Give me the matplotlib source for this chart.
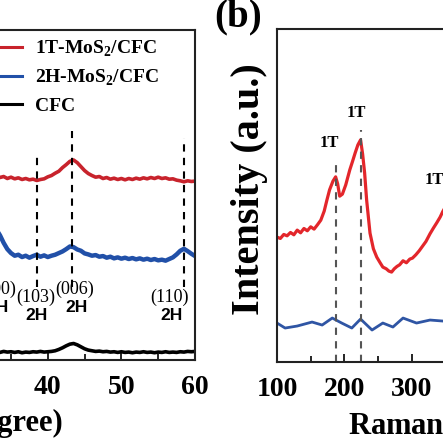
import numpy as np
import matplotlib
matplotlib.use("Agg")
import matplotlib.pyplot as plt

plt.rcParams['font.family'] = ['Liberation Serif', 'DejaVu Serif']
plt.rcParams['font.weight'] = 'bold'
plt.rcParams['mathtext.fontset'] = 'custom'
plt.rcParams['mathtext.rm'] = 'Liberation Serif:bold'
plt.rcParams['mathtext.bf'] = 'Liberation Serif:bold'

# ---- XRD data (2theta in degree, arbitrary intensity) ----
two_theta = [30.0, 30.5, 31.0, 31.5, 32.0, 32.5, 33.0, 33.5, 34.0, 34.5,
             35.0, 35.5, 36.0, 36.5, 37.0, 37.5, 38.0, 38.5, 39.0, 39.5,
             40.0, 40.5, 41.0, 41.5, 42.0, 42.5, 43.0, 43.5, 44.0, 44.5,
             45.0, 45.5, 46.0, 46.5, 47.0, 47.5, 48.0, 48.5, 49.0, 49.5,
             50.0, 50.5, 51.0, 51.5, 52.0, 52.5, 53.0, 53.5, 54.0, 54.5,
             55.0, 55.5, 56.0, 56.5, 57.0, 57.5, 58.0, 58.5, 59.0, 59.5, 60.0]
xrd_1t = [55.6, 55.2, 55.8, 55.4, 55.9, 55.5, 55.7, 55.3, 55.6, 55.0,
          55.4, 54.9, 55.2, 54.7, 55.0, 54.6, 54.8, 54.4, 54.7, 54.9,
          55.5, 55.9, 56.6, 57.2, 58.3, 59.2, 60.2, 60.6, 59.8, 58.6,
          57.4, 56.5, 55.9, 55.4, 55.6, 55.0, 55.3, 54.8, 55.1, 54.7,
          55.0, 54.6, 55.0, 54.7, 55.1, 54.8, 55.2, 54.9, 55.3, 55.0,
          55.4, 55.0, 55.2, 54.8, 54.9, 54.5, 54.3, 54.0, 54.3, 54.1, 54.2]
xrd_2h = [31.8, 32.2, 32.0, 33.0, 35.0, 38.2, 39.6, 37.8, 35.5, 33.6,
          32.4, 31.6, 31.9, 31.2, 31.6, 31.0, 31.5, 31.9, 31.3, 31.7,
          31.2, 31.6, 31.9, 32.4, 32.9, 33.6, 34.4, 34.2, 33.5, 33.1,
          32.3, 32.0, 31.6, 31.8, 31.3, 31.5, 31.0, 31.3, 30.8, 31.1,
          30.7, 31.0, 30.6, 30.9, 30.5, 30.8, 30.4, 30.7, 30.3, 30.6,
          30.2, 30.4, 30.1, 30.6, 31.1, 32.0, 33.1, 33.7, 33.0, 32.2, 31.5]
xrd_cfc = [2.5, 2.3, 2.6, 2.4, 2.5, 2.2, 2.5, 2.3, 2.6, 2.4,
           2.5, 2.3, 2.5, 2.2, 2.4, 2.3, 2.5, 2.4, 2.6, 2.4,
           2.5, 2.6, 2.8, 3.2, 3.7, 4.3, 4.8, 5.0, 4.6, 4.0,
           3.4, 3.0, 2.8, 2.6, 2.7, 2.5, 2.6, 2.4, 2.5, 2.3,
           2.5, 2.3, 2.4, 2.2, 2.4, 2.3, 2.5, 2.3, 2.4, 2.2,
           2.4, 2.3, 2.5, 2.3, 2.4, 2.3, 2.5, 2.4, 2.6, 2.5, 2.6]
xrd_peaks = [33.0, 38.6, 43.3, 58.5]
xrd_peak_names = ['(100)', '(103)', '(006)', '(110)']
xrd_line_top = [None, 62.7, 69.4, 67.3]

# ---- Raman data (cm-1, arbitrary intensity) ----
raman_1t_x = [100, 105, 110, 115, 120, 125, 130, 135, 140, 145, 150, 155,
              160, 165, 170, 174, 178, 183, 187, 190, 193, 197, 202, 208,
              212, 216, 220, 224, 227, 230, 233, 238, 243, 248, 253, 257,
              262, 266, 270, 274, 278, 282, 287, 292, 297, 301, 306, 311,
              316, 321, 327, 332, 337, 342, 346, 352, 358]
raman_1t = [37.5, 37.1, 38.3, 37.9, 38.9, 38.2, 39.6, 38.8, 40.1, 39.4,
            40.6, 39.9, 41.2, 42.6, 45.3, 48.6, 51.7, 54.3, 55.6, 53.5,
            49.8, 50.4, 53.2, 57.7, 60.2, 62.8, 65.2, 66.7, 62.5, 56.8,
            48.6, 38.7, 34.0, 31.5, 29.8, 28.5, 28.0, 27.3, 27.0, 28.0,
            28.7, 29.2, 30.4, 29.8, 30.9, 31.2, 32.2, 33.4, 34.8, 36.2,
            38.5, 40.2, 41.8, 43.5, 45.2, 47.3, 49.5]
raman_2h_x = [100, 112, 130, 152, 167, 182, 196, 211, 224, 241, 257, 272,
              287, 307, 327, 346, 360]
raman_2h = [11.7, 10.2, 10.8, 12.0, 11.1, 13.2, 11.7, 10.2, 12.9, 9.6,
            11.7, 10.5, 13.2, 11.7, 12.6, 12.3, 12.0]
raman_peaks = [187, 224]
raman_line_top = [60.7, 69.7]
raman_labels = [(178, 65.8), (218, 74.8), (333, 54.7)]

fig = plt.figure(figsize=(4.43, 4.43), dpi=100)
W = 443.0

def px_axes(left, right, top, bottom):
    return fig.add_axes([left / W, (W - bottom) / W, (right - left) / W, (bottom - top) / W])

red_xrd = '#c8232c'
blue_xrd = '#2150a8'

# ---------------- (a) XRD ----------------
ax1 = px_axes(-173, 195, 30, 360)
ax1.plot(two_theta, xrd_1t, color=red_xrd, lw=2.6, label='1T-MoS$_\\mathbf{2}$/CFC')
ax1.plot(two_theta, xrd_2h, color=blue_xrd, lw=3.2, label='2H-MoS$_\\mathbf{2}$/CFC')
ax1.plot(two_theta, xrd_cfc, color='black', lw=2.6, label='CFC')
for pos, top in zip(xrd_peaks, xrd_line_top):
    if top is not None:
        ax1.vlines(pos, 22, top, colors='black', linestyles=(0, (3.5, 3)), lw=1.5)
label_y = {'(100)': 21.5, '(103)': 19.0, '(006)': 21.5, '(110)': 19.0}
label_x = {'(100)': 33.0, '(103)': 38.3, '(006)': 43.7, '(110)': 56.6}
for name in xrd_peak_names:
    ax1.text(label_x[name], label_y[name], name, ha='center', va='center',
             fontsize=13, fontweight='normal')
    ax1.text(label_x[name] + 0.2, label_y[name] - 5.5, '2H', ha='center', va='center',
             fontsize=12.5, fontweight='bold', family='Liberation Sans')
ax1.set_xlim(10, 60)
ax1.set_ylim(0, 100)
ax1.set_xticks([10, 20, 30, 40, 50, 60])
ax1.set_xticks(np.arange(15, 60, 10), minor=True)
ax1.set_yticks([])
ax1.tick_params(axis='x', which='both', direction='in', top=False, width=1.2,
                labelsize=20, pad=11)
ax1.tick_params(axis='x', which='major', length=6)
ax1.tick_params(axis='x', which='minor', length=4)
ax1.set_xlabel('2θ (degree)', fontsize=22, fontweight='bold')
ax1.xaxis.label.set_ha('right')
ax1.xaxis.label.set_va('center')
ax1.xaxis.set_label_coords((63 + 173) / 368, (360 - 423) / 330)
leg = ax1.legend(loc='upper left', bbox_to_anchor=(-36 / W, 0.934),
                 bbox_transform=fig.transFigure, frameon=False, fontsize=14,
                 handlelength=2.5, handletextpad=0.65, labelspacing=0.45, borderpad=0)
for h in leg.get_lines():
    h.set_linewidth(2.2)

# ---------------- (b) Raman ----------------
ax2 = px_axes(277, 614, 29, 362)
ax2.plot(raman_1t_x, raman_1t, color='#e3262b', lw=2.3)
ax2.plot(raman_2h_x, raman_2h, color='#2f55a4', lw=2.0)
for pos, top in zip(raman_peaks, raman_line_top):
    ax2.vlines(pos, 0, top, colors='#555555', linestyles=(0, (3.5, 3)), lw=1.5)
for x, y in raman_labels:
    ax2.text(x, y, '1T', ha='center', va='center', fontsize=12, fontweight='bold')
ax2.set_xlim(100, 600)
ax2.set_ylim(0, 100)
ax2.set_xticks([100, 200, 300, 400, 500, 600])
ax2.set_xticks([150, 250, 350, 450, 550], minor=True)
ax2.set_yticks([])
ax2.tick_params(axis='x', which='both', direction='in', top=False, width=1.2,
                labelsize=20, pad=11)
ax2.tick_params(axis='x', which='major', length=6)
ax2.tick_params(axis='x', which='minor', length=4)
ax2.set_ylabel('Intensity (a.u.)', fontsize=29, fontweight='bold')
ax2.yaxis.set_label_coords(-9 / 337, (362 - 189) / 333)
ax2.set_xlabel('Raman shift (cm$^{-1}$)', fontsize=22, fontweight='bold')
ax2.xaxis.label.set_ha('left')
ax2.xaxis.label.set_va('center')
ax2.xaxis.set_label_coords((348 - 277) / 337, (362 - 425) / 333)

for ax in (ax1, ax2):
    for s in ax.spines.values():
        s.set_linewidth(1.5)
        s.set_color('#222222')

fig.text(238 / W, 1 - 17 / W, '(b)', ha='center', va='center', fontsize=28, fontweight='bold')

fig.savefig('out.png', dpi=100)
